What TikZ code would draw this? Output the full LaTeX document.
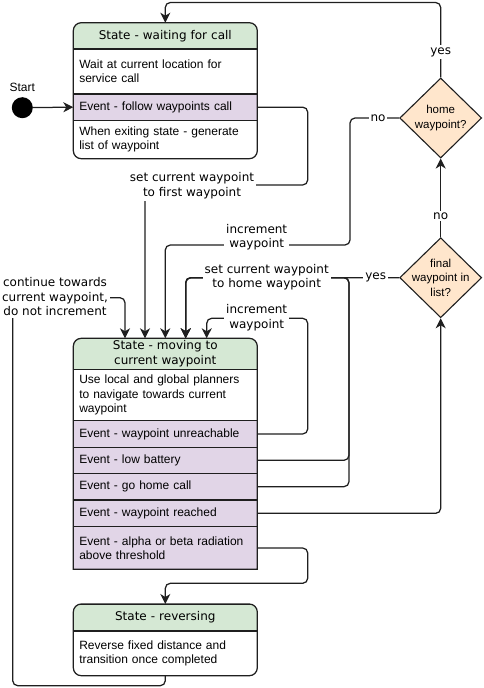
\documentclass[tikz,border=0pt]{standalone}
\usepackage{fontspec}
\setmainfont{Liberation Sans}
\newfontfamily\verdfont{DejaVu Sans}
\usetikzlibrary{positioning,shapes.geometric,arrows.meta}
\definecolor{stategreen}{HTML}{D5E8D4}
\definecolor{eventpurple}{HTML}{E1D5E7}
\definecolor{decisionorange}{HTML}{FFE6CC}
\definecolor{linegray}{HTML}{1F1F1F}

\begin{document}
\begin{tikzpicture}[x=1pt,y=1pt,node distance=0pt]
    \tikzstyle{row}=[rectangle,draw=linegray,line width=1.1pt,outer sep=0pt,inner xsep=6pt,inner ysep=1pt,text width=172pt,align=left,fill=white,font=\fontsize{12}{14.4}\selectfont]
    \tikzstyle{state_head}=[row,fill=stategreen,align=center,font=\verdfont\fontsize{12}{14.5}\selectfont]
    \tikzstyle{event_row}=[row,fill=eventpurple]
    \tikzstyle{decision}=[diamond,draw=linegray,line width=1.1pt,fill=decisionorange,minimum width=82pt,minimum height=80pt,inner sep=0pt]
    \tikzstyle{edge_lbl}=[fill=white,inner sep=2pt,align=center,font=\verdfont\fontsize{12}{14.5}\selectfont]
    \tikzstyle{trans}=[draw=linegray,line width=1.25pt,rounded corners=5pt,-{Stealth[length=10pt,width=10pt,inset=3pt]}]
    \tikzstyle{outline}=[draw=linegray,line width=1.25pt]
    \useasboundingbox (0,0) rectangle (484,-688);

    % state - waiting for call
    \begin{scope}
    \clip[rounded corners=8pt] (73.3,-22.7) rectangle (257.3,-158.7);
    \node[state_head,minimum height=26.3pt,anchor=north west] (wait_hdr) at (73.3,-22.7) {State - waiting for call};
    \node[row,minimum height=45pt,below=of wait_hdr] (wait_do) {Wait at current location for\\service call};
    \node[event_row,minimum height=26.3pt,below=of wait_do] (wait_ev) {Event - follow waypoints call};
    \node[row,minimum height=38.4pt,below=of wait_ev] (wait_exit) {When exiting state - generate\\list of waypoint};
    \end{scope}
    \draw[outline,rounded corners=8pt] (wait_hdr.north west) rectangle (wait_exit.south east);

    % state - moving to current waypoint
    \begin{scope}
    \clip (73.3,-569.3) -- (73.3,-346.3) arc[start angle=180,end angle=90,radius=8pt] -- (249.3,-338.3) arc[start angle=90,end angle=0,radius=8pt] -- (257.3,-569.3) -- cycle;
    \node[state_head,minimum height=31pt,anchor=north west] (move_hdr) at (73.3,-338.3) {State - moving to\\current waypoint};
    \node[row,minimum height=51.4pt,below=of move_hdr] (move_do) {Use local and global planners\\to navigate towards current\\waypoint};
    \node[event_row,minimum height=26.6pt,below=of move_do] (move_unreach) {Event - waypoint unreachable};
    \node[event_row,minimum height=26pt,below=of move_unreach] (move_batt) {Event - low battery};
    \node[event_row,minimum height=26.7pt,below=of move_batt] (move_home) {Event - go home call};
    \node[event_row,minimum height=26.7pt,below=of move_home] (move_reached) {Event - waypoint reached};
    \node[event_row,minimum height=42.6pt,below=of move_reached] (move_rad) {Event - alpha or beta radiation\\above threshold};
    \end{scope}
    \draw[outline] (move_rad.south west) -- ([yshift=-8pt]move_hdr.north west) arc[start angle=180,end angle=90,radius=8pt] -- ([xshift=-8pt]move_hdr.north east) arc[start angle=90,end angle=0,radius=8pt] -- (move_rad.south east) -- cycle;

    % state - reversing
    \begin{scope}
    \clip[rounded corners=8pt] (73.3,-604) rectangle (257.3,-675.7);
    \node[state_head,minimum height=27pt,anchor=north west] (rev_hdr) at (73.3,-604) {State - reversing};
    \node[row,minimum height=44.7pt,below=of rev_hdr] (rev_do) {Reverse fixed distance and\\transition once completed};
    \end{scope}
    \draw[outline,rounded corners=8pt] (rev_hdr.north west) rectangle (rev_do.south east);

    % start and decisions
    \node[circle,fill=black,minimum size=21pt,inner sep=0pt,label={[font=\fontsize{12}{14}\selectfont,label distance=2pt]above:Start}] (start) at (22.3,-107.7) {};
    \node[decision,label={[align=center,font=\fontsize{11.5}{14.7}\selectfont]center:home\\waypoint?}] (home) at (440.7,-118) {};
    \node[decision,label={[align=center,font=\fontsize{11.5}{14.7}\selectfont]center:final\\waypoint in\\list?}] (final) at (440.7,-277.7) {};

    % transitions
    \draw[trans] (start) -- (wait_ev.west);
    \draw[trans] (wait_ev.east) -| (307.7,-185) -- (145,-185) -- (145,0 |- move_hdr.north);
    \draw[trans] (home.north) -- (440.7,-2.5) -- (wait_hdr.north |- 0,-2.5) -- (wait_hdr.north);
    \draw[trans] (home.west) -| (350,-245) -- (move_hdr.north |- 0,-245) -- (move_hdr.north);
    \draw[trans] (final.north) -- (home.south);
    \draw[trans] (final.west) -- (185.7,-277.7) -- (185.7,0 |- move_hdr.north);
    \draw[trans] (move_batt.east) -| (349,-277.7) -- (185.7,-277.7) -- (185.7,0 |- move_hdr.north);
    \draw[trans] (move_home.east) -| (349,-277.7) -- (185.7,-277.7) -- (185.7,0 |- move_hdr.north);
    \draw[trans] (move_unreach.east) -| (307.7,-318.3) -- (206.7,-318.3) -- (206.7,0 |- move_hdr.north);
    \draw[trans] (move_reached.east) -| (final.south);
    \draw[trans] (move_rad.east) -| (307.7,-583.3) -- (rev_hdr.north |- 0,-583.3) -- (rev_hdr.north);
    \draw[trans] (rev_do.south) -- ++(0,-10) -| (12.7,-297.7) -- (125,-297.7) -- (125,0 |- move_hdr.north);

    % transition labels
    \node[edge_lbl] (first_lbl) at (192,-185.5) {set current waypoint\\to first waypoint};
    \node[edge_lbl] (yes_home) at (440.7,-52) {yes};
    \node[edge_lbl] (no_home) at (378,-118) {no};
    \node[edge_lbl] (inc_lbl) at (256.7,-237) {increment\\waypoint};
    \node[edge_lbl] (no_final) at (440.7,-216) {no};
    \node[edge_lbl] (yes_final) at (375.7,-277.7) {yes};
    \node[edge_lbl] (homewp_lbl) at (266.7,-277) {set current waypoint\\to home waypoint};
    \node[edge_lbl] (inc2_lbl) at (256.7,-317.7) {increment\\waypoint};
    \node[edge_lbl] (cont_lbl) at (55,-297) {continue towards\\current waypoint,\\do not increment};
\end{tikzpicture}
\end{document}
